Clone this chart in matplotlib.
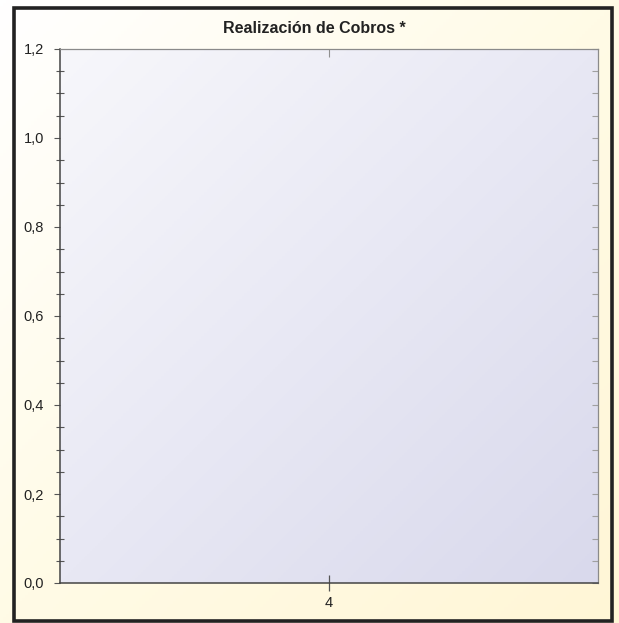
# Empty category chart "Realización de Cobros *" with gradient backgrounds.

import numpy as np
import matplotlib.pyplot as plt
from matplotlib.patches import Rectangle
from matplotlib.colors import LinearSegmentedColormap
from matplotlib.ticker import MultipleLocator, FuncFormatter

plt.rcParams['font.family'] = ['Liberation Sans', 'DejaVu Sans']

TITLE = "Realización de Cobros *"
categories = ["4"]
values = [0.0]
y_max = 1.2

W, H = 619, 623


def px_axes(left, top, right, bottom):
    return [left / W, 1 - bottom / H, (right - left) / W, (bottom - top) / H]


def diag_gradient(n=200):
    xx, yy = np.meshgrid(np.linspace(0, 1, n), np.linspace(0, 1, n))
    return (xx + yy) / 2


def main():
    fig = plt.figure(figsize=(W / 100, H / 100), dpi=100)

    # figure background: white -> cream diagonal
    bg = fig.add_axes([0, 0, 1, 1], zorder=-10)
    cream = LinearSegmentedColormap.from_list("cream", ["#ffffff", "#fffbe6", "#fff6d6"])
    bg.imshow(diag_gradient(), cmap=cream, aspect="auto", extent=[0, 1, 0, 1],
              origin="upper")
    bg.set_xlim(0, 1)
    bg.set_ylim(0, 1)
    bg.axis("off")

    # outer frame
    fig.patches.append(Rectangle((13.5 / W, 1 - 621 / H), (612 - 13.5) / W, (621 - 8) / H,
                                 transform=fig.transFigure, fill=False,
                                 edgecolor="#222222", linewidth=2.6))

    ax = fig.add_axes(px_axes(60, 49, 598, 583))
    x = np.arange(len(categories))

    # plot background gradient
    lav = LinearSegmentedColormap.from_list("lav", ["#f7f7fb", "#e8e8f4", "#d9d9ec"])
    ax.imshow(diag_gradient(), cmap=lav, aspect="auto", extent=[-0.5, 0.5, 0, y_max],
              origin="upper", zorder=0)

    ax.bar(x, values, width=0.6, color="#4a6fb5", zorder=2)

    ax.set_xlim(-0.5, len(categories) - 0.5)
    ax.set_ylim(0, y_max)
    ax.set_xticks(x)
    ax.set_xticklabels(categories)
    ax.yaxis.set_major_locator(MultipleLocator(0.2))
    ax.yaxis.set_minor_locator(MultipleLocator(0.05))
    ax.yaxis.set_major_formatter(FuncFormatter(lambda v, p: f"{v:.1f}".replace(".", ",")))

    ax.tick_params(axis="y", which="major", direction="out", length=4.5, width=0.8,
                   color="#555555", labelsize=10.5, labelcolor="#222222", pad=7)
    ax.tick_params(axis="y", which="minor", direction="inout", length=6, width=0.8,
                   color="#555555")
    ax.tick_params(axis="x", direction="inout", length=11, width=0.9, color="#555555",
                   labelsize=10.5, labelcolor="#222222", pad=4)

    for side in ("left", "bottom"):
        ax.spines[side].set_color("#444444")
        ax.spines[side].set_linewidth(1.1)
    for side in ("top", "right"):
        ax.spines[side].set_color("#8a8a8a")
        ax.spines[side].set_linewidth(0.9)

    # right and top ticks pointing inward
    sec = ax.secondary_yaxis("right")
    sec.yaxis.set_major_locator(MultipleLocator(0.2))
    sec.yaxis.set_minor_locator(MultipleLocator(0.05))
    sec.tick_params(which="both", direction="in", length=4.5, width=0.8,
                    color="#a0a0a0", labelright=False)
    sec.spines["right"].set_visible(False)

    top = ax.secondary_xaxis("top")
    top.set_xticks(x)
    top.tick_params(direction="in", length=6, width=0.8, color="#909090",
                    labeltop=False)
    top.spines["top"].set_visible(False)

    fig.text(314 / W, 1 - 28.5 / H, TITLE, ha="center", va="center",
             fontsize=11.5, fontweight="bold", color="#222222")

    fig.savefig("out.png", dpi=100)


if __name__ == "__main__":
    main()
